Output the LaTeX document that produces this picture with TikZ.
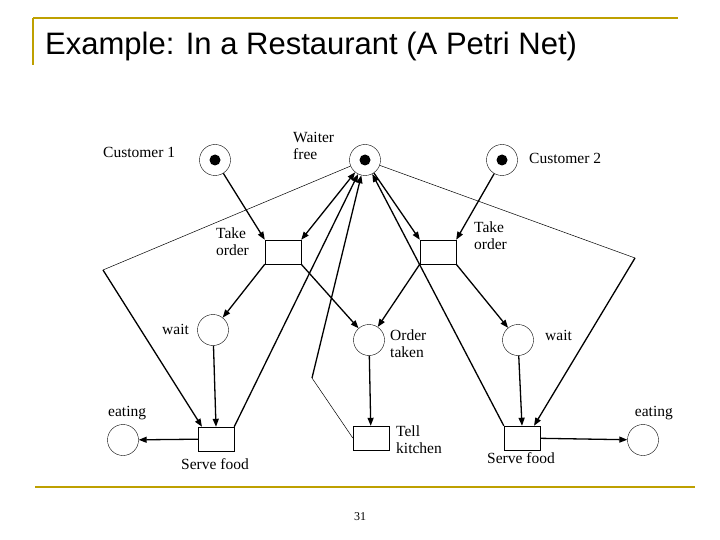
\documentclass[tikz,border=0pt]{standalone}
\usepackage{fontspec}
\setmainfont{Liberation Serif}
\newfontfamily\titlefont{Liberation Sans}
\usetikzlibrary{arrows.meta}
\begin{document}
\begin{tikzpicture}[x=1pt,y=-1pt,
  place/.style={circle,draw,minimum size=31pt,inner sep=0pt},
  trans/.style={rectangle,draw,minimum width=36pt,minimum height=24pt,inner sep=0pt},
  tok/.style={circle,fill=black,minimum size=11pt,inner sep=0pt},
  arc/.style={line width=1.3pt,-{Triangle[length=8pt,width=6pt]}},
  thin/.style={line width=0.5pt},
  lbl/.style={font=\fontsize{15.5}{17}\selectfont,align=left,inner sep=0pt},
  gold/.style={line width=2pt}]
\useasboundingbox (0,0) rectangle (720,540);
\draw[gold,color={rgb,255:red,190;green,160;blue,0}] (33,18) -- (33,65) (33,18) -- (678,18) (35,487) -- (695,487);
\node[font=\titlefont\fontsize{31}{34}\selectfont,anchor=west,inner sep=0pt] (title) at (45,46) {Example: In a Restaurant (A Petri Net)};
% places
\node[place] (c1) at (215,160) {}; \node[tok] (t1) at (215,160) {};
\node[place] (w) at (365,160) {}; \node[tok] (t2) at (365,160) {};
\node[place] (c2) at (502,160) {}; \node[tok] (t3) at (502,160) {};
\node[place] (wa1) at (213,330) {};
\node[place] (ot) at (369,340) {};
\node[place] (wa2) at (518,340) {};
\node[place] (e1) at (123,440) {};
\node[place] (e2) at (643,440) {};
% transitions
\node[trans] (to1) at (283,252) {};
\node[trans] (to2) at (438,252) {};
\node[trans] (sf1) at (216,439) {};
\node[trans] (tk) at (371,438) {};
\node[trans] (sf2) at (522,438) {};
\coordinate (b1) at (103,270);
\coordinate (b2) at (312,378);
\coordinate (b3) at (635,258);
% labels
\node[lbl,anchor=west] (l1) at (103,152) {Customer 1};
\node[lbl,anchor=west] (l2) at (293,146) {Waiter\\free};
\node[lbl,anchor=west] (l3) at (529,158) {Customer 2};
\node[lbl,anchor=west] (l4) at (216,242) {Take\\order};
\node[lbl,anchor=west] (l5) at (474,236) {Take\\order};
\node[lbl,anchor=west] (l6) at (162,329) {wait};
\node[lbl,anchor=west] (l7) at (390,344) {Order\\taken};
\node[lbl,anchor=west] (l8) at (545,335) {wait};
\node[lbl,anchor=west] (l9) at (108,413) {eating};
\node[lbl,anchor=east] (l10) at (673,413) {eating};
\node[lbl,anchor=west] (l11) at (396,440) {Tell\\kitchen};
\node[lbl,anchor=west] (l12) at (181,464) {Serve food};
\node[lbl,anchor=west] (l13) at (487,458) {Serve food};
\node[font=\fontsize{12}{14}\selectfont] (pg) at (360,517) {31};
% arcs
\draw[arc] (c1) -- (to1.north west);
\draw[arc,{Triangle[length=8pt,width=6pt]}-{Triangle[length=8pt,width=6pt]}] (w) -- (to1.north east);
\draw[arc] (to1.south west) -- (wa1);
\draw[arc] (to1.south east) -- (ot);
\draw[arc] (wa1) -- (sf1.north);
\draw[arc] (sf1) -- (e1);
\draw[arc] (sf1.north east) -- (w);
\draw[thin] (w) -- (b1);
\draw[arc] (b1) -- ([xshift=-14pt]sf1.north);
\draw[thin] (tk.west) -- (b2);
\draw[arc] (b2) -- (w);
\draw[arc] (w) -- (to2.north west);
\draw[arc] (c2) -- (to2.north east);
\draw[arc] (to2.south west) -- (ot);
\draw[arc] (to2.south east) -- (wa2);
\draw[arc] (ot) -- (tk);
\draw[arc] (wa2) -- (sf2.north);
\draw[arc] (sf2) -- (e2);
\draw[arc] (sf2.north west) -- (w);
\draw[thin] (w) -- (b3);
\draw[arc] (b3) -- ([xshift=12pt]sf2.north);
\end{tikzpicture}
\end{document}
